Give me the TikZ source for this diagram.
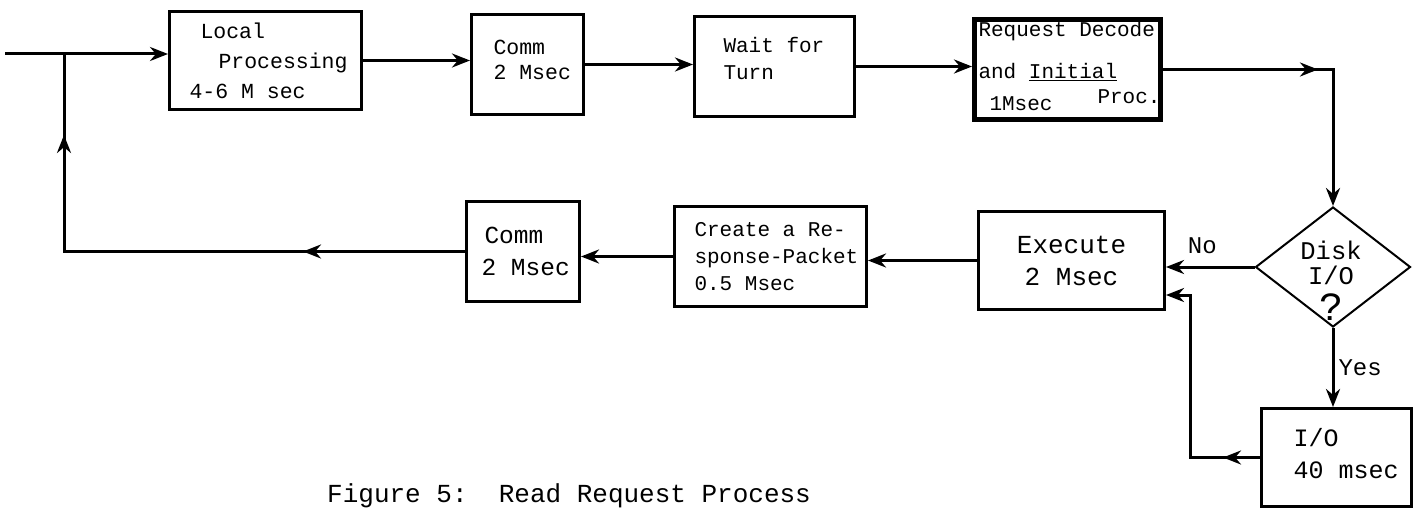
\documentclass[tikz,border=0pt]{standalone}
\usepackage{fontspec}
\setmainfont{Liberation Mono}[WordSpace={1,0,0}]
\usetikzlibrary{arrows.meta,shapes.geometric,decorations.markings}

\begin{document}
\begin{tikzpicture}[x=1pt, y=-1pt,
    >={Stealth[length=18pt,width=14pt]},
    flow/.style={line width=3pt},
    box/.style={draw, line width=3pt, anchor=north west, inner sep=0pt, align=flush left},
    midtip/.style={postaction={decorate, decoration={markings, mark=at position #1 with {\arrow{>}}}}},
    lbl/.style={font=\fontsize{24}{28}\selectfont, inner sep=4pt}]

  % Page frame
  \useasboundingbox (0,0) rectangle (1415,508);

  % Upper row
  \node[box, minimum width=192pt, minimum height=98pt, text width=192pt,
        font=\fontsize{21.5}{30}\selectfont] (local) at (168,10)
        {\hspace*{31pt}Local\\\hspace*{49pt}Processing\\\hspace*{20pt}4-6 M sec};
  \node[box, minimum width=112pt, minimum height=100pt, text width=112pt, text depth=34pt,
        font=\fontsize{21.5}{25}\selectfont] (comm1) at (470,13)
        {\hspace*{22pt}Comm\\\hspace*{22pt}2 Msec};
  \node[box, minimum width=160pt, minimum height=100pt, text width=160pt, text depth=44pt,
        font=\fontsize{21}{27}\selectfont] (wait) at (693,15)
        {\hspace*{29pt}Wait for\\\hspace*{29pt}Turn};
  \node[box, line width=5pt, minimum width=186pt, minimum height=100pt, text width=186pt, text depth=82pt,
        font=\fontsize{21}{32}\selectfont] (req) at (972,17)
        {\hspace*{4pt}Request Decode\\[10pt]\hspace*{4pt}and \underline{Initial}\\\hspace*{15pt}1Msec\hfill\raisebox{7pt}{Proc.}\hspace*{6pt}};

  % Decision
  \node[draw, diamond, line width=2pt, minimum width=155pt, minimum height=120pt, inner sep=0pt] (disk) at (1333,267) {};
  \node[align=center, inner sep=0pt, font=\fontsize{25.5}{25}\selectfont] (disktxt) at (1331,281)
        {Disk\\I/O\\[8pt]{\fontsize{40}{40}\selectfont ?}};

  % Lower row
  \node[box, align=flush center, minimum width=186pt, minimum height=98pt, text width=186pt,
        font=\fontsize{26}{32}\selectfont] (exe) at (977,210) {Execute\\2 Msec};
  \node[box, minimum width=150pt, minimum height=98pt, text width=150pt, text depth=40pt,
        font=\fontsize{25}{32}\selectfont] (io) at (1260,407)
        {\hspace*{32pt}I/O\\\hspace*{32pt}40 msec};
  \node[box, minimum width=192pt, minimum height=100pt, text width=192pt,
        font=\fontsize{21}{27}\selectfont] (cre) at (673,205)
        {\hspace*{20pt}Create a Re-\\\hspace*{20pt}sponse-Packet\\\hspace*{20pt}0.5 Msec};
  \node[box, minimum width=113pt, minimum height=100pt, text width=113pt,
        font=\fontsize{24.5}{32}\selectfont] (comm2) at (465,200)
        {\hspace*{18pt}Comm\\\hspace*{15pt}2 Msec};

  % Caption
  \node[anchor=base west, inner sep=0pt, font=\fontsize{26}{30}\selectfont] (caption) at (327,502)
        {Figure 5:\ \ Read Request Process};

  % Connectors
  \coordinate (in) at (5,54);
  \coordinate (join) at (64,54);
  \coordinate (back) at (1190,295);
  \draw[flow,->] (in) -- (in -| local.west);
  \draw[flow,->] (local.east) -- (local.east -| comm1.west);
  \draw[flow,->] (comm1.east) -- (comm1.east -| wait.west);
  \draw[flow,->] (wait.east) -- (wait.east -| req.west);
  \draw[flow,->,midtip=155pt] (req.east) -- (req.east -| disk.north) -- (disk.north);
  \draw[flow,->] (disk.west) -- (disk.west -| exe.east) node[lbl, midway, above=8pt, xshift=-8pt] (nolbl) {No};
  \draw[flow,->] (disk.south) -- (disk.south |- io.north) node[lbl, midway, right] (yeslbl) {Yes};
  \draw[flow,->,midtip=37pt] (io.west) -| (back) -- (back -| exe.east);
  \draw[flow,->] (exe.west) -- (exe.west -| cre.east);
  \draw[flow,->] (cre.west) -- (cre.west -| comm2.east);
  \draw[flow,midtip=162pt,midtip=-81pt] (comm2.west) -- (comm2.west -| join) -- (join);
\end{tikzpicture}
\end{document}
